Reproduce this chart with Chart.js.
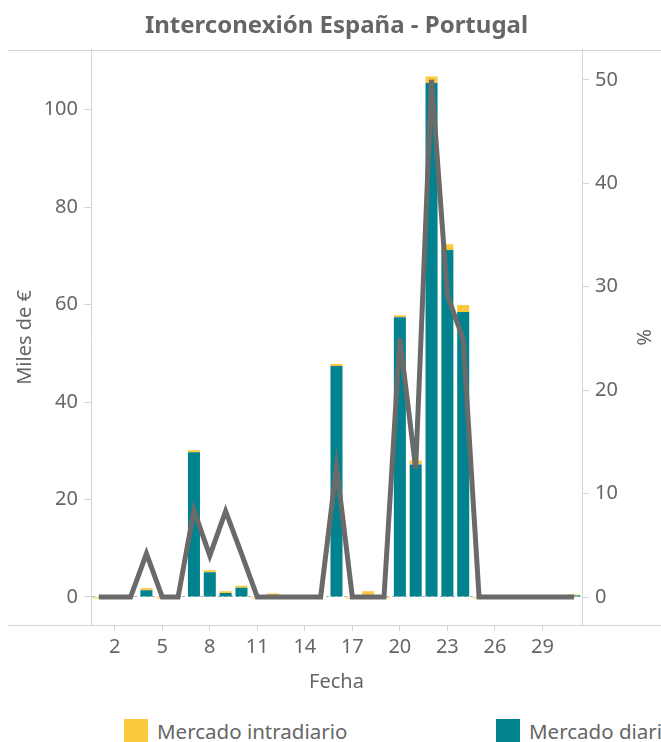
<!DOCTYPE html>
<html>
<head>
<meta charset="utf-8">
<script src="https://cdn.jsdelivr.net/npm/chart.js@4.4.1/dist/chart.umd.min.js"></script>
<style>
  body { margin: 0; background: #fff; overflow: hidden; }
  #wrap { position: relative; width: 661px; height: 742px; overflow: hidden; }
  #myChart { position: absolute; left: 0; top: 0; }
  .item { position: absolute; top: 719px; height: 24px; line-height: 24px; white-space: nowrap;
          font-family: "Noto Sans", sans-serif; font-size: 20.5px; color: #666; }
  .box { display: inline-block; width: 24px; height: 24px; vertical-align: top; margin-right: 9px; }
</style>
</head>
<body>
<div id="wrap">
  <canvas id="myChart" width="661" height="700"></canvas>
  <div class="item" style="left:124px"><span class="box" style="background:#fbc93d"></span>Mercado intradiario</div>
  <div class="item" style="left:496px"><span class="box" style="background:#00838f"></span>Mercado diario</div>
</div>
<script>
// data
const days = ['1','2','3','4','5','6','7','8','9','10','11','12','13','14','15','16',
              '17','18','19','20','21','22','23','24','25','26','27','28','29','30','31'];
// Mercado diario (miles de €)
const diario = [0, 0, 0, 1.4, 0, 0, 29.7, 5.1, 0.8, 1.9, 0, 0, 0, 0, 0, 47.4,
                0, 0, 0, 57.4, 27.2, 105.5, 71.2, 58.5, 0, 0, 0, 0, 0, 0, 0.3];
// Mercado intradiario (miles de €)
const intradiario = [-0.3, 0, 0, 0.4, -0.3, 0, 0.4, 0.4, 0.4, 0.4, -0.3, 0.7, 0, 0, 0, 0.4,
                     -0.3, 1.2, -0.3, 0.4, 0.8, 1.3, 1.2, 1.4, -0.3, 0, 0, 0, 0, 0, 0.2];
// porcentaje (eje derecho)
const porcentaje = [0, 0, 0, 4.2, 0, 0, 8.4, 4.0, 8.3, 4.2, 0, 0, 0, 0, 0, 12.6,
                    0, 0, 0, 25.0, 12.4, 50.0, 29.2, 24.9, 0, 0, 0, 0, 0, 0, 0];

const grey = '#666666';
const axisGrey = '#d4d4d4';
const tickFont = { family: '"Noto Sans", sans-serif', size: 20 };
const titleFont = { family: '"Noto Sans", sans-serif', size: 20 };

// lineas del panel (arriba y abajo, todo el ancho)
const paneLines = {
  id: 'paneLines',
  beforeDraw(chart) {
    const { ctx, chartArea } = chart;
    ctx.save();
    ctx.strokeStyle = axisGrey;
    ctx.lineWidth = 1;
    ctx.beginPath();
    ctx.moveTo(8, Math.round(chartArea.top) + 0.5);
    ctx.lineTo(chart.width, Math.round(chartArea.top) + 0.5);
    ctx.moveTo(8, Math.round(chartArea.bottom) + 0.5);
    ctx.lineTo(chart.width, Math.round(chartArea.bottom) + 0.5);
    ctx.stroke();
    ctx.restore();
  }
};

const data = {
  labels: days,
  datasets: [
    {
      type: 'line',
      label: '%',
      data: porcentaje,
      yAxisID: 'y1',
      borderColor: '#6a6a6a',
      borderWidth: 5,
      pointRadius: 0,
      tension: 0,
      order: 0
    },
    {
      type: 'bar',
      label: 'Mercado diario',
      data: diario,
      backgroundColor: '#00838f',
      yAxisID: 'y',
      barPercentage: 0.76,
      categoryPercentage: 1,
      order: 1
    },
    {
      type: 'bar',
      label: 'Mercado intradiario',
      data: intradiario,
      backgroundColor: '#fbc93d',
      yAxisID: 'y',
      barPercentage: 0.76,
      categoryPercentage: 1,
      order: 1
    }
  ]
};

const config = {
  type: 'bar',
  data,
  options: {
    responsive: false,
    animation: false,
    layout: { padding: { top: 0, bottom: 5, left: 0, right: 0 } },
    plugins: {
      legend: { display: false },
      tooltip: { enabled: false },
      title: {
        display: true,
        text: 'Interconexión España - Portugal',
        fullSize: false,
        color: grey,
        font: { family: '"Noto Sans", sans-serif', size: 24, weight: 'bold' },
        padding: { top: 12, bottom: 9 }
      }
    },
    scales: {
      x: {
        stacked: true,
        grid: {
          offset: false,
          drawOnChartArea: false,
          tickLength: 6,
          tickColor: ctx => ((ctx.index - 1) % 3 === 0 ? axisGrey : 'rgba(0,0,0,0)')
        },
        border: { color: axisGrey },
        ticks: {
          autoSkip: false,
          maxRotation: 0,
          color: grey,
          font: tickFont,
          padding: 4,
          callback: (v, i) => ((i - 1) % 3 === 0 ? days[i] : '')
        },
        title: { display: true, text: 'Fecha', color: grey, font: titleFont, padding: { top: 4, bottom: 1 } },
        afterFit: s => { s.height = 70; }
      },
      y: {
        stacked: true,
        position: 'left',
        min: -5.75,
        max: 112.3,
        grid: {
          color: ctx => (ctx.tick && ctx.tick.value === 0 ? '#a9b4b8' : 'rgba(0,0,0,0)'),
          tickColor: axisGrey,
          tickLength: 7
        },
        border: { color: axisGrey, dash: [3, 3] },
        ticks: { stepSize: 20, includeBounds: false, color: grey, font: tickFont, padding: 6 },
        title: { display: true, text: 'Miles de €', color: grey, font: titleFont, padding: { top: 13, bottom: 0 } },
        afterFit: s => { s.width = 91; }
      },
      y1: {
        position: 'right',
        min: -2.7,
        max: 52.9,
        grid: { drawOnChartArea: false, tickColor: axisGrey, tickLength: 7 },
        border: { color: axisGrey },
        ticks: { stepSize: 10, includeBounds: false, color: grey, font: tickFont, padding: 6 },
        title: { display: true, text: '%', color: grey, font: titleFont, padding: { top: 6, bottom: 0 } },
        afterFit: s => { s.width = 79; }
      }
    }
  },
  plugins: [paneLines]
};

const myChart = new Chart(document.getElementById('myChart'), config);
</script>
</body>
</html>
